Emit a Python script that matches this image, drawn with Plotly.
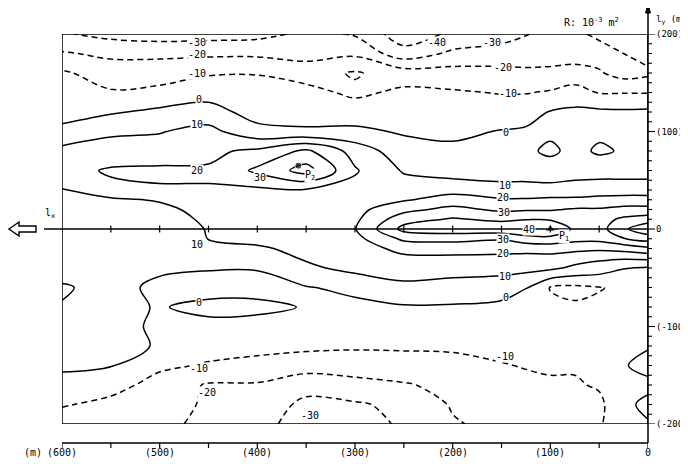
import plotly.graph_objects as go

# ---- grid (m) ----
x_m = [0, 25, 50, 75, 100, 125, 150, 200, 250, 300, 350, 400, 450, 500, 550, 600]
y_m = [-200, -180, -160, -140, -120, -100, -80, -60, -40, -30, -20, -10, 0,
       10, 20, 30, 40, 60, 80, 100, 120, 140, 160, 180, 200]

# ---- R values (10^-3 m^2), one row per y level ----
r_m200 = [-1, -4, -11, -14, -15, -16, -17, -21, -29, -33, -34, -27, -22, -18, -16, -16]
r_m180 = [3, -3, -12, -13, -14, -14, -15, -19, -28, -31, -32, -25, -21, -17, -13, -9]
r_m160 = [-3, -2, -9, -11, -11, -12, -13, -17, -21, -24, -27, -21, -21, -14, -6, -2]
r_m140 = [4, -1, -7, -9, -9, -9.5, -10.5, -11, -13, -14, -15, -13, -11, -8, 0.5, 1]
r_m120 = [-1, -3, -6, -7, -7, -7, -7.5, -9.5, -9, -9, -8, -7, -6, -0.5, 2, 3]
r_m100 = [-4, -5, -6, -7, -7, -6, -5, -4, -3, -4, -4, -3, -2, -1, 2, 4]
r_m80 = [-6, -7, -9, -9, -8, -5, -2, -1, -1, -2, -0.5, 2, 2, -0.5, 2, 0.5]
r_m60 = [-9, -9, -10.3, -12, -10.5, 0.5, 4, 6, 8, 2, -0.5, -3, -3, -2, 3, -1]
r_m40 = [-1, 0.5, 5, 8, 12, 13, 14, 14, 14, 13, 8, 0.5, 0.5, 1.5, 4, 4]
r_m30 = [12, 11, 12, 14, 17, 17, 18, 18, 18, 13, 11, 5, 5, 2, 4, 5]
r_m20 = [28, 24, 22, 23, 24, 23, 23, 24, 23, 15, 12, 9, 8, 3, 5, 5]
r_m10 = [44, 39.5, 33, 33, 37, 36, 31, 33, 32, 17, 13, 12, 10.2, 4, 5, 6]
r_0 = [58, 48, 36, 38, 49, 48, 47, 46, 43, 19.5, 14, 12, 10.5, 5, 5, 7]
r_p10 = [45, 42, 36, 36, 39, 39.5, 38, 41, 36, 18, 14, 13, 12, 5, 5, 7]
r_p20 = [33, 33, 31, 31, 29, 29, 28, 33, 27, 17, 14, 15, 14, 7, 6, 7]
r_p30 = [24, 24, 23, 22, 22, 21, 21, 24, 19, 16, 16, 16, 16, 11, 8, 8]
r_p40 = [15, 15, 15, 14, 13, 13, 13, 17, 15, 17, 19, 18, 19.5, 19, 18, 9.5]
r_p60 = [6, 6, 6, 6, 5, 6, 6, 5, 9, 21, 44, 32, 21, 22, 21, 17]
r_p80 = [4, 1, -1.5, 3, -2, 2, 3, 2, 4, 16, 32, 22, 18, 14, 15, 13]
r_p100 = [3, 2, 2, 3, 2, 1, 0.5, -2, -1, 2, 1, 3, 13, 9.5, 8, 2]
r_p120 = [2, 1.5, 2, 2, 0.5, -3, -5, -5, -4, -5, -3, -4, 4, 2, -1, -3]
r_p140 = [-10.5, -10.5, -10.5, -6, -9, -10.5, -10.5, -9, -8, -12, -7, -6, -4, -7, -9, -5]
r_p160 = [-22, -24, -19, -16, -18, -18, -17, -16, -15, -9, -14, -10.5, -11, -15, -15, -8.5]
r_p180 = [-16, -20, -24, -25, -24, -25, -26, -28, -36, -22, -24, -22, -22, -22, -22, -19]
r_p200 = [-12, -15, -18, -22, -27, -30.5, -34, -38, -46, -31, -28, -33, -34, -35, -33, -29]

z_rows = [r_m200, r_m180, r_m160, r_m140, r_m120, r_m100, r_m80, r_m60, r_m40, r_m30,
          r_m20, r_m10, r_0, r_p10, r_p20, r_p30, r_p40, r_p60, r_p80, r_p100,
          r_p120, r_p140, r_p160, r_p180, r_p200]

# ---- measurement points ----
pt_names = ["P2", "P1"]
pt_x = [358, 100]
pt_y = [65, 0]
pt_symbols = ["circle", "triangle-up"]

# ---- contour labels written on the map ----
lab_t = ["-30", "-20", "-10", "0", "10", "20", "30", "-40", "-30",
         "-20", "-10", "0", "10", "20", "30", "40",
         "30", "20", "10", "0", "-10",
         "10", "0", "-10", "-20", "-30"]
lab_x = [462, 462, 462, 460, 462, 462, 397, 216, 160,
         148, 143, 145, 146, 148, 147, 122,
         148, 148, 146, 145, 146,
         462, 460, 460, 452, 346]
lab_y = [191, 179, 159, 133, 107, 60, 53, 191, 191,
         166, 139, 99, 45, 32, 17, -1,
         -11, -25, -49, -70, -131,
         -16, -75, -143, -168, -191]

# ---- axis ticks ----
bottom_ticks = [600, 500, 400, 300, 200, 100, 0]
bottom_labels = ["(600)", "(500)", "(400)", "(300)", "(200)", "(100)", "0"]
bottom_minor = [600, 550, 500, 450, 400, 350, 300, 250, 200, 150, 100, 50, 0]
mid_ticks = [550, 500, 450, 400, 350, 300, 250, 200, 150, 100, 50]
right_major = [200, 100, 0, -100, -200]
right_labels = ["(200)", "(100)", "0", "(-100)", "(-200)"]
right_minor = list(range(-200, 201, 10))

FONT = "DejaVu Sans Mono"
OFF = 8                     # page offset of the plot div (body margin)
W, H = 688 - OFF, 467 - OFF
L, T = 62 - OFF, 34 - OFF
PW, PH = 586, 390
R = W - L - PW
B = H - T - PH


def px(xp):
    """page pixel x -> paper x"""
    return (xp - OFF - L) / PW


def py(yp):
    """page pixel y -> paper y"""
    return (T + PH - (yp - OFF)) / PH


fig = go.Figure()

common = dict(x=x_m, y=y_m, z=z_rows, showscale=False, hoverinfo="skip")
fig.add_trace(go.Contour(**common,
                         autocontour=False,
                         contours=dict(start=-40, end=-10, size=10, coloring="none"),
                         line=dict(color="black", width=1.5, dash="6px,4px", smoothing=1.0)))
fig.add_trace(go.Contour(**common,
                         autocontour=False,
                         contours=dict(start=0, end=50, size=10, coloring="none"),
                         line=dict(color="black", width=1.5, smoothing=1.0)))

fig.add_trace(go.Scatter(x=pt_x, y=pt_y, mode="markers",
                         marker=dict(symbol=pt_symbols, size=[7, 9], color="black"),
                         hoverinfo="skip", showlegend=False))

shapes = []
# frame
shapes.append(dict(type="rect", xref="x", yref="y", x0=600, x1=0, y0=-200, y1=200,
                   line=dict(color="black", width=1.5)))
# central l_x axis
shapes.append(dict(type="line", xref="paper", yref="y", x0=px(44), x1=1.0, y0=0, y1=0,
                   line=dict(color="black", width=1.5)))
for t in mid_ticks:
    shapes.append(dict(type="line", xref="x", yref="y", x0=t, x1=t, y0=-3.5, y1=3.5,
                       line=dict(color="black", width=1.2)))
# hollow arrow on the left
shapes.append(dict(type="path", xref="paper", yref="paper",
                   path="M {a},{b} L {c},{d} L {c},{e} L {f},{e} L {f},{g} L {c},{g} L {c},{h} Z".format(
                       a=px(9), b=py(229), c=px(19), d=py(222), e=py(226), f=px(36), g=py(232), h=py(236)),
                   line=dict(color="black", width=1.4), fillcolor="white"))
# right l_y axis
shapes.append(dict(type="line", xref="paper", yref="paper", x0=1.0, x1=1.0, y0=py(443), y1=py(8),
                   line=dict(color="black", width=1.5)))
shapes.append(dict(type="path", xref="paper", yref="paper",
                   path="M {a},{b} L {c},{d} L {e},{d} Z".format(
                       a=1.0, b=py(4), c=px(645.5), d=py(13), e=px(650.5)),
                   line=dict(color="black", width=1), fillcolor="black"))
for t in right_minor:
    ln = 7 if t in right_major else 4
    shapes.append(dict(type="line", xref="paper", yref="y", x0=1.0, x1=px(648 + ln), y0=t, y1=t,
                       line=dict(color="black", width=1.1)))
# bottom scale
shapes.append(dict(type="line", xref="paper", yref="paper", x0=0, x1=1.0, y0=py(443), y1=py(443),
                   line=dict(color="black", width=1.5)))
for t in bottom_minor:
    shapes.append(dict(type="line", xref="x", yref="paper", x0=t, x1=t, y0=py(443), y1=py(448),
                       line=dict(color="black", width=1.2)))

ann = []
for t, xx, yy in zip(lab_t, lab_x, lab_y):
    ann.append(dict(x=xx, y=yy, xref="x", yref="y", text=t, showarrow=False,
                    font=dict(family=FONT, size=10, color="black"),
                    bgcolor="white", borderpad=0))
ann.append(dict(x=346, y=55, xref="x", yref="y", text="P<sub>2</sub>", showarrow=False,
                font=dict(family=FONT, size=10, color="black"), bgcolor="white", borderpad=0))
ann.append(dict(x=86, y=-8, xref="x", yref="y", text="P<sub>1</sub>", showarrow=False,
                font=dict(family=FONT, size=10, color="black"), bgcolor="white", borderpad=0))
for t, s in zip(bottom_ticks, bottom_labels):
    ann.append(dict(x=t, y=py(460), xref="x", yref="paper", text=s, showarrow=False,
                    font=dict(family=FONT, size=10, color="black")))
ann.append(dict(x=px(22), y=py(460), xref="paper", yref="paper", text="(m)", showarrow=False,
                font=dict(family=FONT, size=10, color="black")))
for t, s in zip(right_major, right_labels):
    ann.append(dict(x=px(654), y=t, xref="paper", yref="y", text=s, showarrow=False,
                    xanchor="left", font=dict(family=FONT, size=9, color="black")))
ann.append(dict(x=px(562), y=py(14), xref="paper", yref="paper",
                text="R: 10<sup>-3</sup> m<sup>2</sup>", showarrow=False, xanchor="left",
                font=dict(family=FONT, size=10, color="black")))
ann.append(dict(x=px(654), y=py(12), xref="paper", yref="paper",
                text="l<sub>y</sub> (m)", showarrow=False, xanchor="left",
                font=dict(family=FONT, size=9, color="black")))
ann.append(dict(x=px(43), y=py(213), xref="paper", yref="paper",
                text="l<sub>x</sub>", showarrow=False,
                font=dict(family=FONT, size=10, color="black")))

fig.update_layout(
    width=W, height=H,
    margin=dict(l=L, r=R, t=T, b=B),
    paper_bgcolor="white", plot_bgcolor="white",
    showlegend=False,
    xaxis=dict(range=[600, 0], visible=False, fixedrange=True),
    yaxis=dict(range=[-200, 200], visible=False, fixedrange=True),
    shapes=shapes, annotations=ann,
)

fig.write_html("out.html")
